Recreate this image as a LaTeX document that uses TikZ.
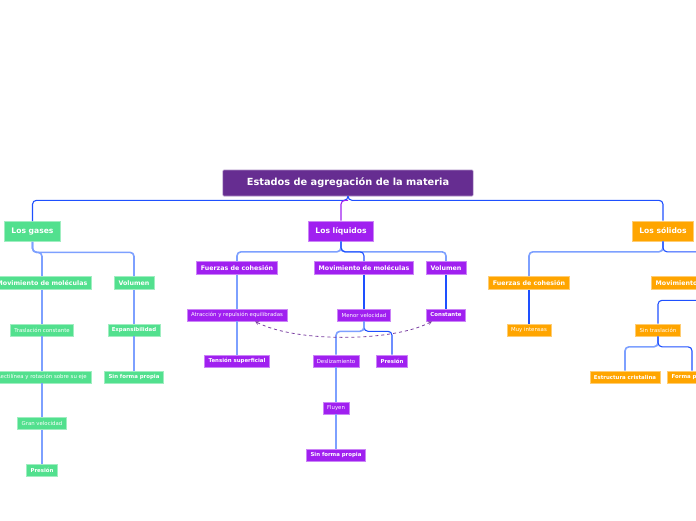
\documentclass[tikz,border=0pt]{standalone}
\usepackage{fontspec}
\setmainfont{DejaVu Sans}
\definecolor{tema}{RGB}{102,45,145}
\definecolor{verde}{RGB}{82,224,142}
\definecolor{lila}{RGB}{160,32,240}
\definecolor{naranja}{RGB}{255,165,0}
\definecolor{azul}{RGB}{30,80,255}
\definecolor{celeste}{RGB}{125,160,255}
\definecolor{relacion}{RGB}{120,60,160}
\begin{document}
\begin{tikzpicture}[x=1pt,y=-1pt,>=stealth,
  caja/.style={fill=#1,draw=#1!55!white,line width=0.6pt,text=white,inner ysep=0pt},
  titulo/.style={caja=tema,font=\fontsize{9.8}{10}\bfseries\selectfont,minimum height=26pt,inner xsep=24pt,rounded corners=1pt},
  nivA/.style={caja=#1,font=\fontsize{7.6}{8}\bfseries\selectfont,minimum height=20pt,inner xsep=7pt},
  nivB/.style={caja=#1,font=\fontsize{6.3}{7}\bfseries\selectfont,minimum height=13pt,inner xsep=4.5pt},
  nivC/.style={caja=#1,font=\fontsize{5.4}{6}\selectfont,minimum height=12pt,inner xsep=4pt},
  nivCb/.style={caja=#1,font=\fontsize{5.4}{6}\bfseries\selectfont,minimum height=12pt,inner xsep=4pt},
  rama/.style={draw=azul,line width=1.1pt,rounded corners=4pt},
  hoja/.style={draw=celeste,line width=1.6pt,rounded corners=4pt},
  rel/.style={draw=relacion,line width=0.8pt,dashed}]
\useasboundingbox (0,0) rectangle (696,520);
% raiz y primer nivel
\node[titulo] (raiz) at (348,183) {Estados de agregación de la materia};
\node[nivA=verde] (gas) at (32.5,231.5) {Los gases};
\node[nivA=lila] (liq) at (341,231) {Los líquidos};
\node[nivA=naranja] (sol) at (663,231) {Los sólidos};
\draw[rama] (raiz.south) -- ++(0,4) -| (gas.north);
\draw[rama] (raiz.south) -- ++(0,4) -| (sol.north);
\draw[rama,draw=lila] (raiz.south) ++(0,4) -| (liq.north);
% gases
\node[nivB=verde] (gmov) at (42,283) {Movimiento de moléculas};
\node[nivB=verde] (gvol) at (134,283) {Volumen};
\node[nivC=verde] (gtras) at (42,330) {Traslación constante};
\node[nivC=verde] (grect) at (42,377) {Rectilínea y rotación sobre su eje};
\node[nivC=verde] (gvel) at (42,423.5) {Gran velocidad};
\node[nivCb=verde] (gpres) at (42,470) {Presión};
\node[nivCb=verde] (gexp) at (134,330) {Expansibilidad};
\node[nivCb=verde] (gsin) at (134,377) {Sin forma propia};
\draw[hoja] (gas.south) -- ++(0,10.5) -| (gmov.north);
\draw[hoja] (gas.south) -- ++(0,10.5) -| (gvol.north);
\draw[hoja] (gmov) -- (gtras) (gtras) -- (grect) (grect) -- (gvel) (gvel) -- (gpres);
\draw[hoja] (gvol) -- (gexp) (gexp) -- (gsin);
% liquidos
\node[nivB=lila] (lfue) at (237,268) {Fuerzas de cohesión};
\node[nivB=lila] (lmov) at (364,268) {Movimiento de moléculas};
\node[nivB=lila] (lvol) at (446,268) {Volumen};
\node[nivC=lila] (latr) at (237,315) {Atracción y repulsión equilibradas};
\node[nivCb=lila] (lten) at (237,361) {Tensión superficial};
\node[nivC=lila] (lmen) at (364,315) {Menor velocidad};
\node[nivC=lila] (ldes) at (336,361) {Deslizamiento};
\node[nivCb=lila] (lpres) at (392,361) {Presión};
\node[nivC=lila] (lflu) at (336,408) {Fluyen};
\node[nivCb=lila] (lsin) at (336,455) {Sin forma propia};
\node[nivCb=lila] (lcon) at (446,315) {Constante};
\draw[hoja] (liq.south) -- ++(0,10.5) -| (lfue.north);
\draw[hoja] (liq.south) -- ++(0,10.5) -| (lvol.north);
\draw[rama] (liq.south) -- ++(0,10.5) -| (lmov.north);
\draw[hoja] (lfue) -- (latr) (latr) -- (lten);
\draw[rama] (lmov) -- (lmen) (lvol) -- (lcon);
\draw[rama] (lmen.south) -- ++(0,10) -| (lpres.north);
\draw[hoja] (lmen.south) -- ++(0,10) -| (ldes.north);
\draw[hoja] (ldes) -- (lflu) (lflu) -- (lsin);
\draw[rel,<->] ([xshift=18pt]latr.south) .. controls +(40,21) and +(-40,21) .. ([xshift=-14pt]lcon.south);
% solidos
\node[nivB=naranja] (sfue) at (529,283) {Fuerzas de cohesión};
\node[nivB=naranja] (smov) at (701,283) {Movimiento de moléculas};
\node[nivC=naranja] (smuy) at (529,330) {Muy intensas};
\node[nivC=naranja] (stra) at (658,330) {Sin traslación};
\node[nivCb=naranja] (sest) at (625,377) {Estructura cristalina};
\node[nivCb=naranja] (sfor) at (692,377) {Forma propia};
\draw[hoja] (sol.south) -- ++(0,10.5) -| (sfue.north);
\draw[rama] (sol.south) -- ++(0,10.5) -| (smov.north);
\draw[rama] (sfue) -- (smuy);
\draw[rama] (smov.south) -- ++(0,10.5) -| (stra.north);
\draw[hoja] (stra.south) -- ++(0,10.5) -| (sest.north);
\draw[rama] (stra.south) -- ++(0,10.5) -| (sfor.north);
\end{tikzpicture}
\end{document}
